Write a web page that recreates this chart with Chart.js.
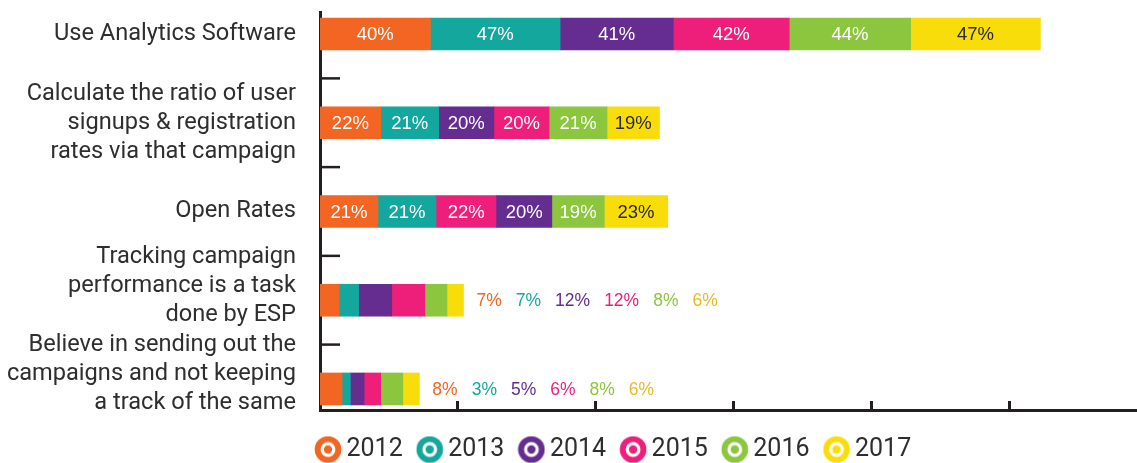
<!DOCTYPE html>
<html>
<head>
<meta charset="utf-8">
<script src="https://cdn.jsdelivr.net/npm/chart.js@4.4.1/dist/chart.umd.min.js"></script>
<style>
  html, body { margin: 0; padding: 0; background: #fff; overflow: hidden; }
  #wrap { width: 1137px; height: 472px; }
</style>
</head>
<body>
<div id="wrap"><canvas id="myChart"></canvas></div>
<script>
// categories (one array of lines per row)
const categories = [
  ["Use Analytics Software"],
  ["Calculate the ratio of user", "signups & registration", "rates via that campaign"],
  ["Open Rates"],
  ["Tracking campaign", "performance is a task", "done by ESP"],
  ["Believe in sending out the", "campaigns and not keeping", "a track of the same"],
];
const years = ["2012", "2013", "2014", "2015", "2016", "2017"];

// percent per year, one value per category
const y2012 = [40, 22, 21, 7, 8];
const y2013 = [47, 21, 21, 7, 3];
const y2014 = [41, 20, 20, 12, 5];
const y2015 = [42, 20, 22, 12, 6];
const y2016 = [44, 21, 19, 8, 8];
const y2017 = [47, 19, 23, 6, 6];
const series = [y2012, y2013, y2014, y2015, y2016, y2017];

// order the segments are laid out in each row (Open Rates has 2015 before 2014)
const rowOrder = [
  [0, 1, 2, 3, 4, 5],
  [0, 1, 2, 3, 4, 5],
  [0, 1, 3, 2, 4, 5],
  [0, 1, 2, 3, 4, 5],
  [0, 1, 2, 3, 4, 5],
];

const axisMax = 296;
const axisStep = 50;

const colors = ["#f26522", "#14a79d", "#652d90", "#ee1f7a", "#8cc63f", "#f9dd0a"];
const outsideColors = ["#f26522", "#14a79d", "#652d90", "#ee1f7a", "#8cc63f", "#e6b92a"];
const textColor = "#2e2e2e";
const axisColor = "#231f20";

// target style legend icon
function makeIcon(color) {
  const c = document.createElement("canvas");
  c.width = 28;
  c.height = 28;
  const g = c.getContext("2d");
  g.fillStyle = color;
  g.beginPath();
  g.arc(14, 14, 13.3, 0, Math.PI * 2);
  g.fill();
  g.strokeStyle = "#ffffff";
  g.lineWidth = 3.2;
  g.beginPath();
  g.arc(14, 14, 5.8, 0, Math.PI * 2);
  g.stroke();
  return c;
}

// floating bars built from the values, following the row order
const datasets = years.map((yr, j) => ({
  label: yr,
  data: categories.map((_, r) => {
    const order = rowOrder[r];
    let start = 0;
    for (const k of order) {
      if (k === j) break;
      start += series[k][r];
    }
    return { x: [start, start + series[j][r]], y: r };
  }),
  backgroundColor: colors[j],
  borderWidth: 0,
  barThickness: 32,
  grouped: false,
  pointStyle: makeIcon(colors[j]),
}));

const segmentLabels = {
  id: "segmentLabels",
  afterDatasetsDraw(chart) {
    const ctx = chart.ctx;
    ctx.save();
    ctx.textBaseline = "middle";
    categories.forEach((_, r) => {
      const segs = chart.data.datasets.map((ds, j) => ({
        el: chart.getDatasetMeta(j).data[r],
        text: series[j][r] + "%",
        j: j,
      }));
      ctx.font = '18.5px "Liberation Sans", Arial, sans-serif';
      const fits = segs.every(s => Math.abs(s.el.x - s.el.base) > ctx.measureText(s.text).width + 6);
      if (fits) {
        ctx.textAlign = "center";
        segs.forEach(s => {
          ctx.fillStyle = s.j === 5 ? "#2a2a2a" : "#ffffff";
          ctx.fillText(s.text, (s.el.x + s.el.base) / 2, s.el.y + 1);
        });
      } else {
        // labels placed after the bar, one after the other
        ctx.font = '17.5px "Liberation Sans", Arial, sans-serif';
        ctx.textAlign = "left";
        let cx = Math.max(...segs.map(s => Math.max(s.el.x, s.el.base))) + 13;
        segs.forEach(s => {
          ctx.fillStyle = outsideColors[s.j];
          ctx.fillText(s.text, cx, s.el.y + 1);
          cx += ctx.measureText(s.text).width + 14;
        });
      }
    });
    ctx.restore();
  },
};

const axisMarks = {
  id: "axisMarks",
  afterDraw(chart) {
    const { ctx, chartArea } = chart;
    const xs = chart.scales.x;
    const ys = chart.scales.y;
    ctx.save();
    ctx.strokeStyle = axisColor;
    ctx.lineWidth = 3;
    xs.ticks.forEach(t => {
      if (t.value <= 0 || t.value >= axisMax || t.value % axisStep !== 0) return;
      const px = Math.round(xs.getPixelForValue(t.value)) - 0.5;
      ctx.beginPath();
      ctx.moveTo(px, chartArea.bottom);
      ctx.lineTo(px, chartArea.bottom - 9);
      ctx.stroke();
    });
    ctx.lineWidth = 2.5;
    const vals = ys.ticks.map(t => t.value).sort((a, b) => a - b);
    for (let i = 0; i < vals.length - 1; i++) {
      const py = ys.getPixelForValue((vals[i] + vals[i + 1]) / 2);
      ctx.beginPath();
      ctx.moveTo(chartArea.left, py);
      ctx.lineTo(chartArea.left + 20, py);
      ctx.stroke();
    }
    ctx.restore();
  },
};

const legendShift = {
  id: "legendShift",
  afterLayout(chart) {
    chart.legend.left -= 19;
  },
};

const ctx = document.getElementById("myChart").getContext("2d");
const myChart = new Chart(ctx, {
  type: "bar",
  data: { datasets: datasets },
  options: {
    indexAxis: "y",
    responsive: true,
    maintainAspectRatio: false,
    animation: false,
    layout: { padding: { top: 12, left: 0, right: 0, bottom: 0 } },
    scales: {
      x: {
        type: "linear",
        min: 0,
        max: axisMax,
        ticks: { display: false, stepSize: axisStep },
        grid: { display: false },
        border: { display: true, color: axisColor, width: 3 },
        afterFit(scale) {
          scale.height = 6;
        },
      },
      y: {
        type: "linear",
        reverse: true,
        offset: false,
        min: -0.248,
        max: 4.237,
        bounds: "data",
        grid: { display: false, drawTicks: false, offset: false },
        border: { display: true, color: axisColor, width: 3 },
        afterBuildTicks(scale) {
          // one tick per category
          scale.ticks = categories.map((_, i) => ({ value: i }));
        },
        ticks: {
          autoSkip: false,
          padding: 24,
          color: textColor,
          font: { family: "Roboto", size: 23.6, lineHeight: 1.23 },
          callback: function (v) {
            const lines = categories[v];
            if (!lines) return "";
            // the last two labels sit a little above their bars
            return v >= 3 ? lines.concat([""]) : lines;
          },
        },
        afterFit(scale) {
          scale.width = 320;
          scale.paddingTop = 0;
          scale.paddingBottom = 0;
        },
      },
    },
    plugins: {
      tooltip: { enabled: false },
      legend: {
        position: "bottom",
        align: "start",
        fullSize: false,
        labels: {
          usePointStyle: true,
          pointStyleWidth: 12,
          padding: 21,
          color: textColor,
          font: { family: "Roboto", size: 25 },
        },
      },
    },
  },
  plugins: [segmentLabels, axisMarks, legendShift],
});
</script>
</body>
</html>
